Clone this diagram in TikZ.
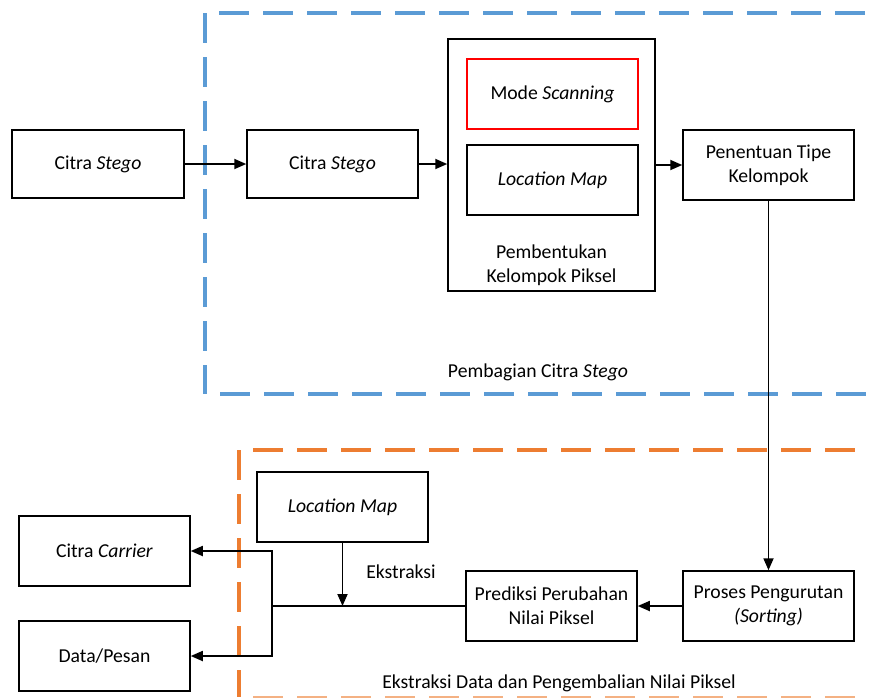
\documentclass[tikz,border=0pt]{standalone}
\usepackage{fontspec}
\setmainfont{Carlito}
\usetikzlibrary{arrows.meta}
\definecolor{grpblue}{HTML}{5B9BD5}
\definecolor{grporange}{HTML}{ED7D31}
\begin{document}
\begin{tikzpicture}[x=1pt,y=-1pt,
  every node/.style={font=\fontsize{19.7}{24}\selectfont},
  box/.style={draw=black,line width=1.5pt,inner sep=0pt,minimum width=171pt,minimum height=70pt,align=center,fill=white},
  arr/.style={line width=1.8pt,-{Triangle[length=12pt,width=10pt]}},
  ln/.style={line width=1.8pt},
  grp/.style={line width=4pt,dash pattern=on 30pt off 14pt}]
\useasboundingbox (0,0) rectangle (869,697);

% dashed group frames
\draw[grp,grpblue] (205,13) -- (205,394);
\draw[grp,grpblue] (219,13) -- (880,13);
\draw[grp,grpblue] (220,394) -- (880,394);
\draw[grp,grporange] (239,450) -- (239,697);
\draw[grp,grporange] (253,450) -- (880,450);
\draw[grp,grporange!60] (253,698) -- (880,698);

% upper stage
\node[box,minimum width=172pt,minimum height=68pt] (s1) at (98,164) {Citra \textit{Stego}};
\node[box,minimum height=68pt] (s2) at (332.5,164) {Citra \textit{Stego}};
\node[box,minimum width=207pt,minimum height=252pt] (pk) at (551.5,165) {};
\node[box,draw=red,line width=2pt] (ms) at (552.5,94) {Mode \textit{Scanning}};
\node[box] (lm1) at (552.5,180) {\textit{Location Map}};
\node[align=center] (pkl) at (551.5,265) {Pembentukan\\Kelompok Piksel};
\node[box] (pt) at (768.5,165) {Penentuan Tipe\\Kelompok};
\node (gl1) at (538,372) {Pembagian Citra \textit{Stego}};

% lower stage
\node[box] (lm2) at (342.5,507) {\textit{Location Map}};
\node[box] (cc) at (104.5,551) {Citra \textit{Carrier}};
\node[box] (dp) at (104.5,656) {Data/Pesan};
\node[box] (pr) at (551.5,606) {Prediksi Perubahan\\Nilai Piksel};
\node[box] (ps) at (768.5,606) {Proses Pengurutan\\\textit{(Sorting)}};
\node (ek) at (401,572) {Ekstraksi};
\node (gl2) at (559,683) {Ekstraksi Data dan Pengembalian Nilai Piksel};

% connectors
\coordinate (j) at (272,606);
\draw[arr] (s1.east) -- (s2.west);
\draw[arr] (s2.east) -- (s2.east -| pk.west);
\draw[arr] (pk.east) -- (pt.west);
\draw[arr] (pt.south) -- (ps.north);
\draw[arr] (ps.west) -- (pr.east);
\draw[ln] (pr.west) -- (j);
\draw[arr] (j) -- (j |- cc.east) -- (cc.east);
\draw[arr] (j) -- (j |- dp.east) -- (dp.east);
\draw[arr] (lm2.south) -- (lm2.south |- pr.west);
\end{tikzpicture}
\end{document}
